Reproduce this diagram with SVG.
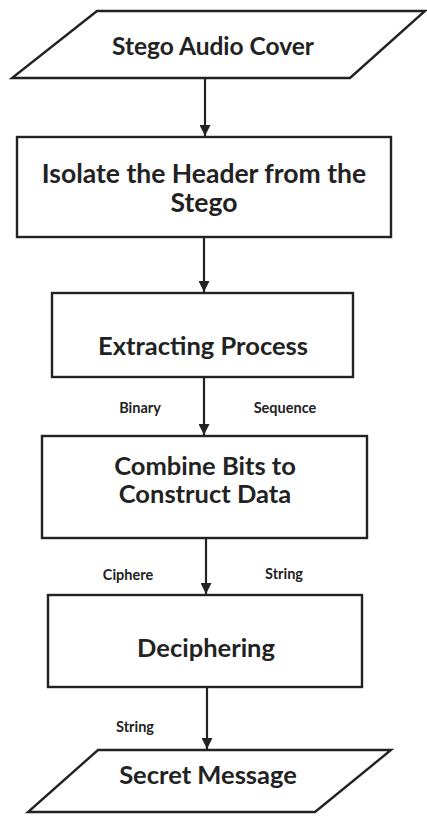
<svg xmlns="http://www.w3.org/2000/svg" width="427" height="816" viewBox="0 0 427 816">
<defs>
<marker id="ah" viewBox="0 0 10 10" refX="10" refY="5" markerWidth="5" markerHeight="5" markerUnits="strokeWidth" orient="auto">
<path d="M0,0 L10,5 L0,10 z" fill="#222"/>
</marker>
</defs>
<style>
.shape{fill:#fff;stroke:#222;stroke-width:2.4}
.t{font-family:Lato,"Open Sans","Liberation Sans",sans-serif;font-weight:bold;fill:#222;text-anchor:middle}
.big{font-size:25.5px}
.lbl{font-size:14.5px}
.conn{stroke:#222;stroke-width:2.2;fill:none;marker-end:url(#ah)}
</style>
<rect width="427" height="816" fill="#fff"/>
<g id="connectors">
<line class="conn" x1="205" y1="78" x2="205" y2="136"/>
<line class="conn" x1="204" y1="237" x2="204" y2="292"/>
<line class="conn" x1="204" y1="377" x2="204" y2="435"/>
<line class="conn" x1="206" y1="538" x2="206" y2="594"/>
<line class="conn" x1="207" y1="687" x2="207" y2="749"/>
<text class="t lbl" x="140" y="413">Binary</text>
<text class="t lbl" x="285" y="413">Sequence</text>
<text class="t lbl" x="128" y="580">Ciphere</text>
<text class="t lbl" x="284" y="579">String</text>
<text class="t lbl" x="135" y="732">String</text>
</g>
<g id="stego-audio-cover">
<polygon class="shape" points="97,11 425,11 350,78 12,78"/>
<text class="t" style="font-size:24.5px" x="213" y="55">Stego Audio Cover</text>
</g>
<g id="isolate-header">
<rect class="shape" x="17" y="137" width="374" height="100"/>
<text class="t" style="font-size:26.5px" x="204" y="183">Isolate the Header from the</text>
<text class="t" style="font-size:26.5px" x="204" y="212">Stego</text>
</g>
<g id="extracting-process">
<rect class="shape" x="52" y="293" width="301" height="84"/>
<text class="t big" x="203" y="355">Extracting Process</text>
</g>
<g id="combine-bits">
<rect class="shape" x="42" y="436" width="325" height="102"/>
<text class="t big" x="205" y="475">Combine Bits to</text>
<text class="t big" x="205" y="503">Construct Data</text>
</g>
<g id="deciphering">
<rect class="shape" x="48" y="595" width="314" height="92"/>
<text class="t big" x="206" y="657">Deciphering</text>
</g>
<g id="secret-message">
<polygon class="shape" points="98,750 391,750 315,812 28,812"/>
<text class="t big" x="208" y="784">Secret Message</text>
</g>
</svg>
